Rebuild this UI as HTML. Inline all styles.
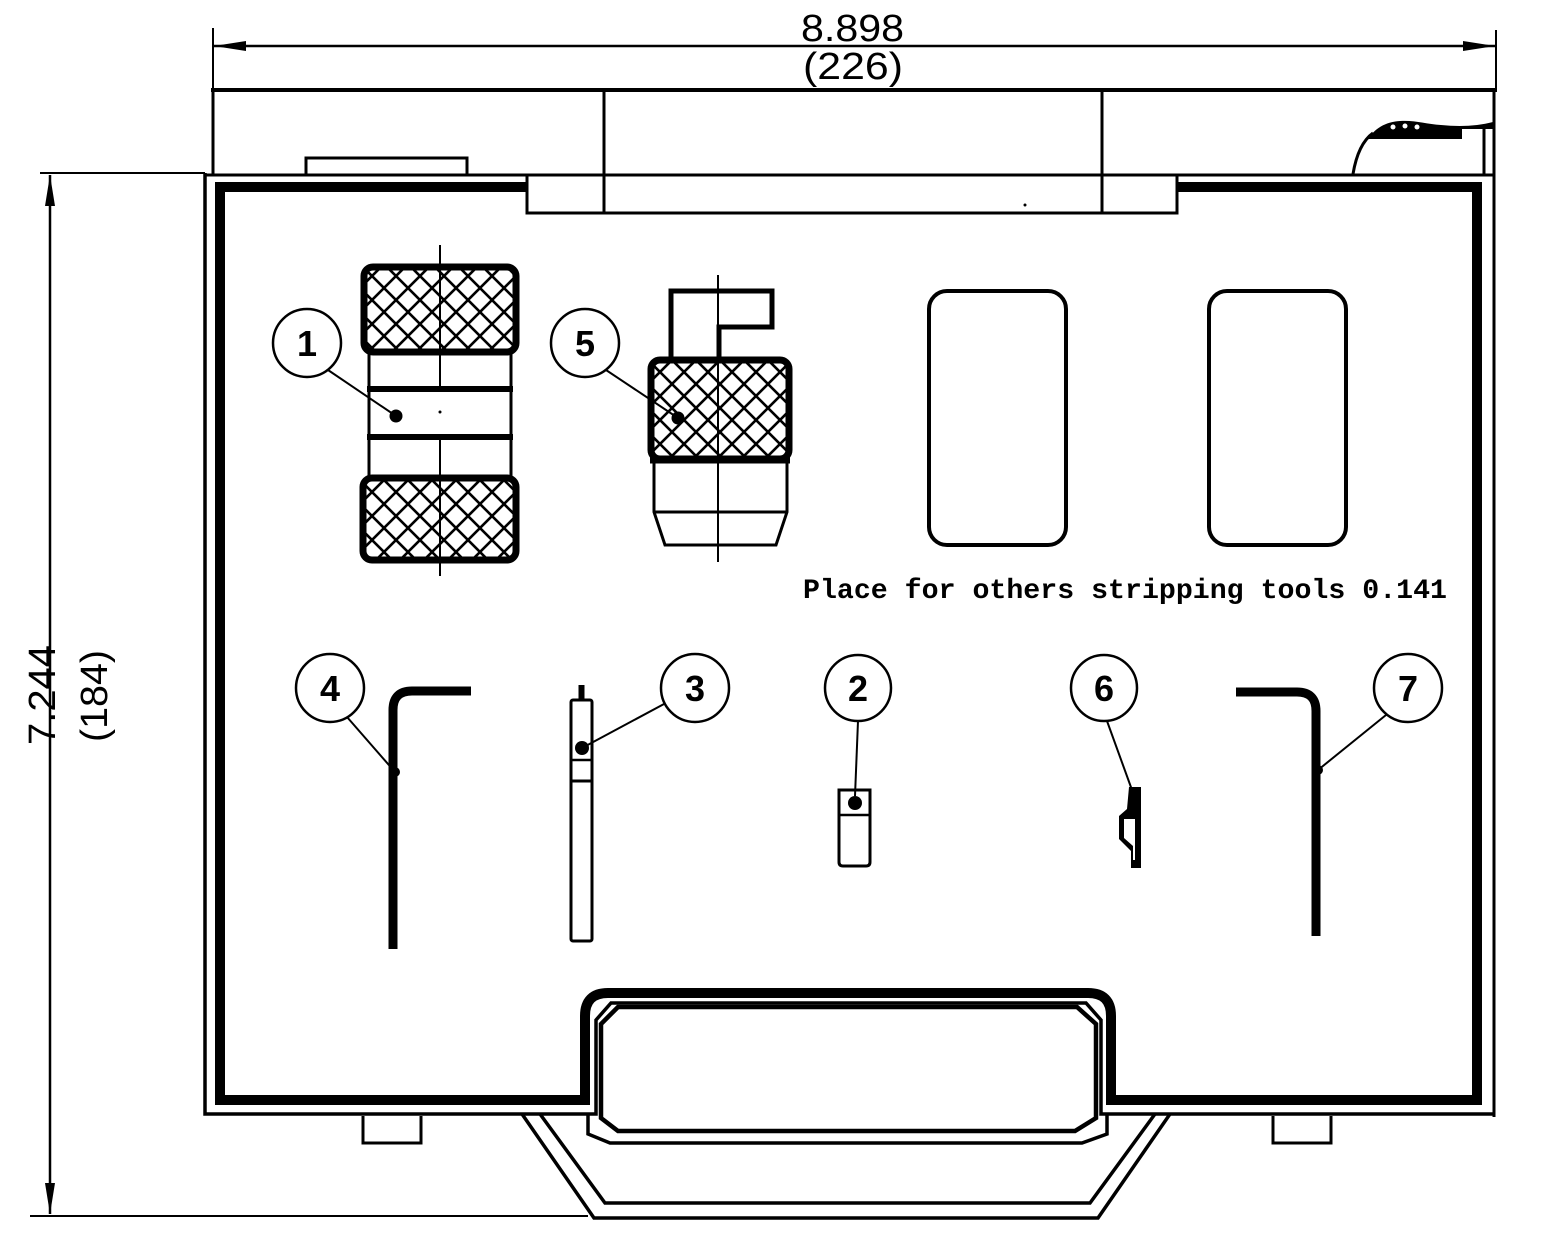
<!DOCTYPE html>
<html>
<head>
<meta charset="utf-8">
<style>
html,body{margin:0;padding:0;background:#fff;}
svg{display:block;}
</style>
</head>
<body>
<svg width="1545" height="1251" viewBox="0 0 1545 1251" xmlns="http://www.w3.org/2000/svg">
<defs>
<pattern id="knurl" patternUnits="userSpaceOnUse" width="24" height="24" x="0" y="0">
<path d="M-2,-2 L26,26 M-2,26 L26,-2" stroke="#000" stroke-width="2.6" fill="none"/>
</pattern>
</defs>
<rect width="1545" height="1251" fill="#fff"/>

<g fill="none" stroke="#000" stroke-linejoin="miter">
<!-- top dimension -->
<line x1="213" y1="46" x2="1496" y2="46" stroke-width="2.5"/>
<line x1="213" y1="28" x2="213" y2="88" stroke-width="2"/>
<line x1="1496" y1="30" x2="1496" y2="88" stroke-width="2"/>
<!-- vertical dimension -->
<line x1="50" y1="175" x2="50" y2="1214" stroke-width="2.5"/>
<line x1="40" y1="173" x2="205" y2="173" stroke-width="2"/>
<line x1="30" y1="1216" x2="588" y2="1216" stroke-width="2"/>

<!-- lid -->
<line x1="211" y1="90" x2="1497" y2="90" stroke-width="4"/>
<line x1="213" y1="88" x2="213" y2="176" stroke-width="3"/>
<line x1="1494" y1="88" x2="1494" y2="1117" stroke-width="3"/>
<line x1="205" y1="175" x2="1494" y2="175" stroke-width="3"/>
<line x1="604" y1="90" x2="604" y2="213" stroke-width="3"/>
<line x1="1102" y1="90" x2="1102" y2="213" stroke-width="3"/>
<path d="M527,175 V213 H1177 V175" stroke-width="3"/>
<path d="M306,175 V158 H467 V175" stroke-width="3"/>
<!-- right latch -->
<path d="M1353,174 C1356,156 1362,141 1373,133" stroke-width="3"/>
<line x1="1484" y1="129" x2="1484" y2="175" stroke-width="3"/>

<!-- body outer thin line -->
<path d="M205,173 V1114 H596 V1020 L611,1003 H1086 L1101,1020 V1114 H1494" stroke-width="3.5"/>
<!-- body inner thick -->
<path d="M527,187 H220 V1100 H585 V1016 Q585,993 608,993 H1088 Q1111,993 1111,1016 V1100 H1477 V187 H1177" stroke-width="10"/>
<!-- grip -->
<path d="M618,1007 H1077 L1096,1024 V1118 L1075,1131 H618 L601,1118 V1024 Z" stroke-width="4.5"/>
<path d="M588,1114 V1134 L610,1143 H1082 L1107,1134 V1114" stroke-width="3.5"/>
<!-- trapezoid handle -->
<path d="M522,1114 L594,1218 H1098 L1170,1114" stroke-width="3.5"/>
<path d="M540,1114 L605,1203 H1090 L1155,1114" stroke-width="3.5"/>
<!-- feet -->
<path d="M363,1116 V1143 H421 V1116" stroke-width="3"/>
<path d="M1273,1116 V1143 H1331 V1116" stroke-width="3"/>

<!-- item 1 -->
<line x1="440" y1="245" x2="440" y2="388" stroke-width="2"/>
<line x1="440" y1="437" x2="440" y2="576" stroke-width="2"/>
<rect x="364" y="267" width="152" height="85" rx="9" fill="url(#knurl)" stroke-width="7"/>
<rect x="363" y="478" width="153" height="82" rx="9" fill="url(#knurl)" stroke-width="7"/>
<line x1="369" y1="352" x2="369" y2="478" stroke-width="3"/>
<line x1="511" y1="352" x2="511" y2="478" stroke-width="3"/>
<line x1="367" y1="389" x2="513" y2="389" stroke-width="6"/>
<line x1="367" y1="437" x2="513" y2="437" stroke-width="6"/>

<!-- item 5 -->
<line x1="718" y1="275" x2="718" y2="562" stroke-width="2"/>
<path d="M671,360 V291 H772 V327 H719 V360" stroke-width="5"/>
<rect x="651" y="360" width="138" height="99" rx="9" fill="url(#knurl)" stroke-width="7"/>
<line x1="650" y1="460" x2="790" y2="460" stroke-width="7"/>
<path d="M654,460 V512 L665,545 H776 L787,512 V460" stroke-width="3"/>
<line x1="654" y1="512" x2="787" y2="512" stroke-width="3"/>

<!-- placeholders -->
<rect x="929" y="291" width="137" height="254" rx="18" stroke-width="4"/>
<rect x="1209" y="291" width="137" height="254" rx="18" stroke-width="4"/>

<!-- item 4 -->
<path d="M393,949 V710 Q393,691 412,691 H471" stroke-width="9"/>
<!-- item 7 -->
<path d="M1236,692 H1297 Q1316,692 1316,711 V936" stroke-width="9"/>
<!-- item 3 -->
<rect x="571" y="700" width="21" height="241" rx="2" stroke-width="3"/>
<line x1="581.5" y1="685" x2="581.5" y2="701" stroke-width="6"/>
<line x1="571" y1="760" x2="592" y2="760" stroke-width="2.5"/>
<line x1="571" y1="781" x2="592" y2="781" stroke-width="3"/>
<!-- item 2 -->
<path d="M839,790 H870 V862 Q870,866 866,866 H843 Q839,866 839,862 Z" stroke-width="3"/>
<line x1="839" y1="815" x2="870" y2="815" stroke-width="2.5"/>

<!-- callout circles -->
<g stroke-width="2.5">
<circle cx="307" cy="343" r="34"/>
<circle cx="585" cy="343" r="34"/>
<circle cx="330" cy="688" r="34"/>
<circle cx="695" cy="688" r="34"/>
<circle cx="858" cy="688" r="33"/>
<circle cx="1104" cy="688" r="33"/>
<circle cx="1408" cy="688" r="34"/>
</g>
<!-- leaders -->
<g stroke-width="2">
<line x1="328" y1="370" x2="396" y2="416"/>
<line x1="606" y1="370" x2="678" y2="418"/>
<line x1="347" y1="717" x2="395" y2="772"/>
<line x1="664" y1="704" x2="582" y2="748"/>
<line x1="858" y1="721" x2="855" y2="796"/>
<line x1="1107" y1="721" x2="1132" y2="790"/>
<line x1="1386" y1="715" x2="1318" y2="770"/>
</g>
</g>

<!-- filled shapes -->
<g fill="#000" stroke="none">
<polygon points="214,46 246,41 246,51"/>
<polygon points="1495,46 1463,41 1463,51"/>
<polygon points="50,175 45,206 55,206"/>
<polygon points="50,1214 45,1183 55,1183"/>
<path d="M1368,139 C1375,128 1386,122 1400,121 C1415,120 1426,124 1441,125 C1460,127 1478,126 1493,122 V129 H1462 V139 Z"/>
<circle cx="396" cy="416" r="6.5"/>
<circle cx="440" cy="412" r="1.5"/>
<circle cx="678" cy="418" r="6.5"/>
<circle cx="395" cy="772" r="5"/>
<circle cx="582" cy="748" r="7"/>
<circle cx="855" cy="803" r="7"/>
<circle cx="1318" cy="770" r="5"/>
<circle cx="1025" cy="205" r="1.5"/>
<polygon points="1129,787 1141,787 1141,868 1131,868 1131,851 1119,839 1119,816 1127,809"/>
</g>
<g fill="#fff" stroke="none">
<circle cx="1393" cy="127" r="2.5"/>
<circle cx="1405" cy="126" r="2.5"/>
<circle cx="1417" cy="127" r="2.5"/>
<polygon points="1124,819 1135,819 1135,860 1133,860 1133,846 1124,838"/>
</g>

<!-- text -->
<g font-family="'Liberation Sans', sans-serif" fill="#000">
<text x="801" y="41" font-size="38" textLength="103" lengthAdjust="spacingAndGlyphs">8.898</text>
<text x="803" y="79" font-size="38" textLength="100" lengthAdjust="spacingAndGlyphs">(226)</text>
<text transform="translate(55,745) rotate(-90)" font-size="38" textLength="100" lengthAdjust="spacingAndGlyphs">7.244</text>
<text transform="translate(107,742) rotate(-90)" font-size="38" textLength="92" lengthAdjust="spacingAndGlyphs">(184)</text>
</g>
<g font-family="'Liberation Sans', sans-serif" font-weight="bold" font-size="36" fill="#000" text-anchor="middle">
<text x="307" y="356">1</text>
<text x="585" y="356">5</text>
<text x="330" y="701">4</text>
<text x="695" y="701">3</text>
<text x="858" y="701">2</text>
<text x="1104" y="701">6</text>
<text x="1408" y="701">7</text>
</g>
<text x="803" y="598" font-family="'Liberation Mono', monospace" font-weight="bold" font-size="28" textLength="644" lengthAdjust="spacingAndGlyphs" fill="#000">Place for others stripping tools 0.141</text>
</svg>
</body>
</html>
